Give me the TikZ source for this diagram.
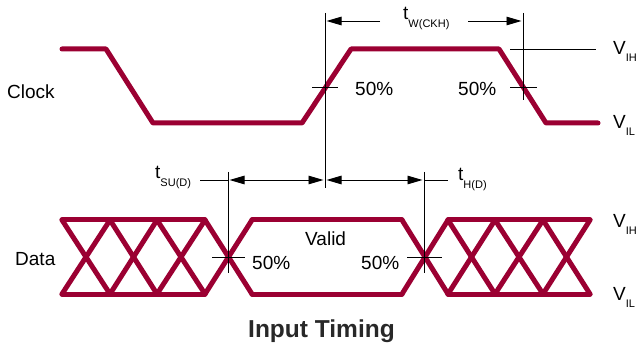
\documentclass[tikz,border=0pt]{standalone}
\usepackage{fontspec}
\setmainfont{Liberation Sans}
\usetikzlibrary{arrows.meta}
\definecolor{wave}{RGB}{155,0,50}
\definecolor{titlegray}{RGB}{40,40,40}
\newcommand{\lblsub}[3]{#1\raisebox{-#3}{\fontsize{11}{11}\selectfont #2}}
\begin{document}
\begin{tikzpicture}[x=1pt,y=-1pt,
  wavestyle/.style={draw=wave,line width=5pt,line cap=round,line join=round},
  thin/.style={draw=black,line width=0.95pt},
  dimarrow/.style={thin,-{Triangle[length=15pt,width=8.5pt]},shorten >=1.5pt},
  dimboth/.style={thin,{Triangle[length=15pt,width=8.5pt]}-{Triangle[length=15pt,width=8.5pt]},shorten >=1.5pt,shorten <=1.5pt},
  lbl/.style={anchor=base west,inner sep=0pt,font=\fontsize{19}{19}\selectfont},
  titlelbl/.style={anchor=base west,inner sep=0pt,text=titlegray,font=\fontsize{24.5}{24.5}\selectfont\bfseries}]
\useasboundingbox (0,0) rectangle (639,347);

% ---- Clock waveform
\coordinate (c0) at (62,49);
\coordinate (c1) at (106,49);
\coordinate (c2) at (153,123);
\coordinate (c3) at (302,123);
\coordinate (c4) at (351,49);
\coordinate (c5) at (499,49);
\coordinate (c6) at (546,123);
\coordinate (c7) at (598,123);
\draw[wavestyle] (c0) -- (c1) -- (c2) -- (c3) -- (c4) -- (c5) -- (c6) -- (c7);

% ---- Data waveform
\foreach \xa/\xb in {62/110,110/157,157/205,205/252,402/448,448/495,495/543,543/590}{
  \draw[wavestyle] (\xa,220) -- (\xb,294);
  \draw[wavestyle] (\xa,294) -- (\xb,220);
}
\draw[wavestyle] (62,220) -- (205,220);
\draw[wavestyle] (62,294) -- (205,294);
\draw[wavestyle] (252,220) -- (402,220);
\draw[wavestyle] (252,294) -- (402,294);
\draw[wavestyle] (448,220) -- (590,220);
\draw[wavestyle] (448,294) -- (590,294);

% ---- reference lines
\coordinate (v1top) at (325,13);  \coordinate (v1bot) at (325,188);
\coordinate (v2top) at (523,13);  \coordinate (v2bot) at (523,100);
\coordinate (v3top) at (228,172); \coordinate (v3bot) at (228,273);
\coordinate (v4top) at (424,172); \coordinate (v4bot) at (424,273);
\draw[thin] (v1top) -- (v1bot);
\draw[thin] (v2top) -- (v2bot);
\draw[thin] (v3top) -- (v3bot);
\draw[thin] (v4top) -- (v4bot);
\draw[thin] (312,87) -- (338,87);
\draw[thin] (510,87) -- (537,87);
\draw[thin] (510,49) -- (596,49);
\draw[thin] (212,257) -- (245,257);
\draw[thin] (407,257) -- (442,257);

% ---- dimension arrows
\coordinate (w1) at (325,21); \coordinate (w1e) at (380,21);
\coordinate (w2) at (523,21); \coordinate (w2s) at (468,21);
\draw[dimarrow] (w1e) -- (w1);
\draw[dimarrow] (w2s) -- (w2);
\coordinate (s0) at (200,180); \coordinate (s1) at (228,180);
\coordinate (s2) at (325,180); \coordinate (s3) at (424,180);
\coordinate (s4) at (448,180);
\draw[thin] (s0) -- (s1);
\draw[dimboth] (s1) -- (s2);
\draw[dimboth] (s2) -- (s3);
\draw[thin] (s3) -- (s4);

% ---- labels
\node[lbl] (clk) at (7,99) {Clock};
\node[lbl] (dat) at (15,265) {Data};
\node[lbl] (p1) at (355,96) {50\%};
\node[lbl] (p2) at (458,96) {50\%};
\node[lbl] (p3) at (252,269) {50\%};
\node[lbl] (p4) at (361,269) {50\%};
\node[lbl] (valid) at (305,245) {Valid};
\node[lbl] (vih1) at (613,55) {\lblsub{V}{IH}{7pt}};
\node[lbl] (vil1) at (613,129) {\lblsub{V}{IL}{7pt}};
\node[lbl] (vih2) at (613,227) {\lblsub{V}{IH}{7pt}};
\node[lbl] (vil2) at (613,300) {\lblsub{V}{IL}{7pt}};
\node[lbl] (tw) at (403,20) {\lblsub{t}{W(CKH)}{8pt}};
\node[lbl] (tsu) at (155,179) {\lblsub{t}{SU(D)}{8pt}};
\node[lbl] (th) at (458,181) {\lblsub{t}{H(D)}{8pt}};
\node[titlelbl] (title) at (248,337) {Input Timing};
\end{tikzpicture}
\end{document}
